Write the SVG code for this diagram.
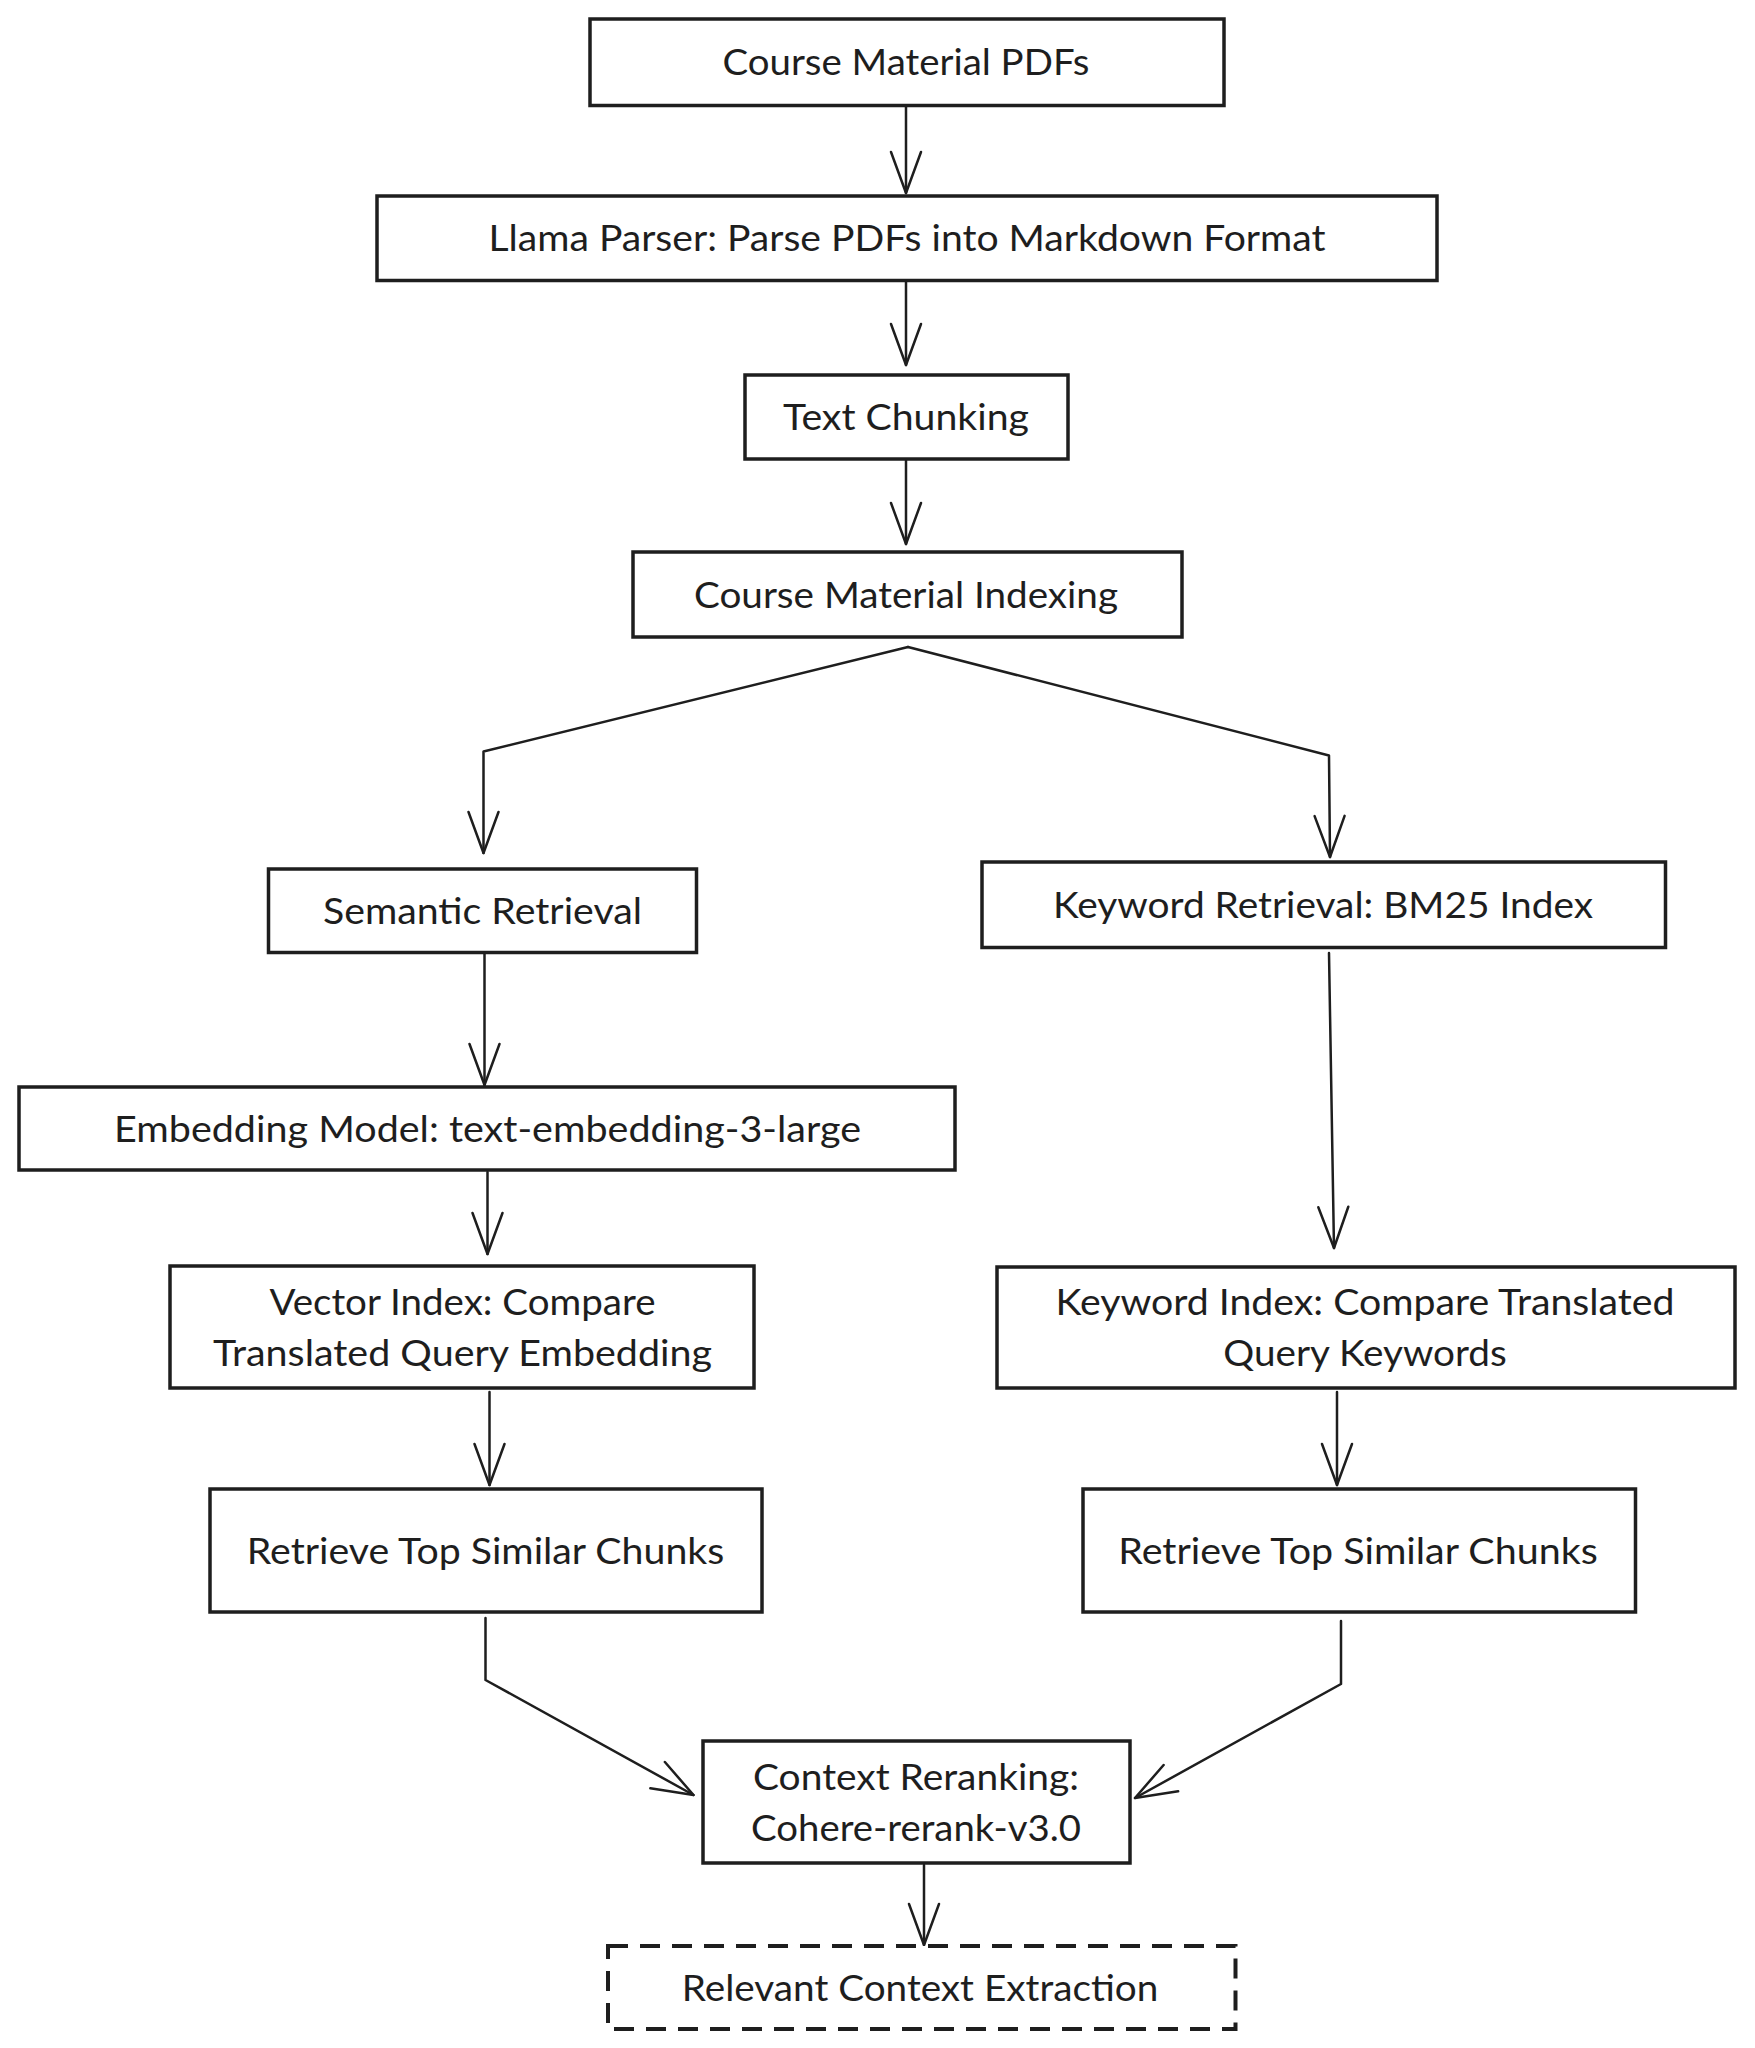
<svg xmlns="http://www.w3.org/2000/svg" width="1755" height="2048" viewBox="0 0 1755 2048">
<defs>
<style>
.box{fill:#ffffff;stroke:#1e1e1e;stroke-width:3.5}
.dash{fill:#ffffff;stroke:#1e1e1e;stroke-width:4;stroke-dasharray:20 12}
.t{font-family:Lato,"Noto Sans","DejaVu Sans",sans-serif;font-size:37px;fill:#1e1e1e;text-anchor:middle}
.c{fill:none;stroke:#1e1e1e;stroke-width:2.5;stroke-linejoin:round;stroke-linecap:round}
</style>
<marker id="ah" markerUnits="userSpaceOnUse" viewBox="-46 -18 50 36" refX="0" refY="0" markerWidth="50" markerHeight="36" orient="auto" overflow="visible">
<path d="M -41 -15 L 0 0 L -41 15" fill="none" stroke="#1e1e1e" stroke-width="2.5" stroke-linecap="round" stroke-linejoin="round"/>
</marker>
</defs>
<rect width="1755" height="2048" fill="#ffffff"/>
<g id="connectors">
<path class="c" d="M906 106 L906 193" marker-end="url(#ah)"/>
<path class="c" d="M906 281 L906 365" marker-end="url(#ah)"/>
<path class="c" d="M906 459 L906 544" marker-end="url(#ah)"/>
<path class="c" d="M908 647 L483.5 751.5 L483.5 853" marker-end="url(#ah)"/>
<path class="c" d="M908 647 L1329 755.5 L1330 857" marker-end="url(#ah)"/>
<path class="c" d="M484.5 954 L484.5 1085" marker-end="url(#ah)"/>
<path class="c" d="M487.5 1172 L487.5 1254" marker-end="url(#ah)"/>
<path class="c" d="M1329 953 L1334 1248" marker-end="url(#ah)"/>
<path class="c" d="M489.5 1392 L489.5 1485" marker-end="url(#ah)"/>
<path class="c" d="M1337 1392 L1337 1485" marker-end="url(#ah)"/>
<path class="c" d="M485.5 1618 L485.5 1680 L693.5 1795" marker-end="url(#ah)"/>
<path class="c" d="M1341 1621 L1341 1684 L1135 1798" marker-end="url(#ah)"/>
<path class="c" d="M924 1865 L924 1945" marker-end="url(#ah)"/>
</g>
<g id="n1"><rect class="box" x="590" y="19" width="634" height="86.5"/><text class="t" x="906" y="75" textLength="367" lengthAdjust="spacingAndGlyphs">Course Material PDFs</text></g>
<g id="n2"><rect class="box" x="377" y="196" width="1060" height="84.5"/><text class="t" x="907" y="251" textLength="837" lengthAdjust="spacingAndGlyphs">Llama Parser: Parse PDFs into Markdown Format</text></g>
<g id="n3"><rect class="box" x="745" y="375" width="323" height="84"/><text class="t" x="906" y="429.5" textLength="246" lengthAdjust="spacingAndGlyphs">Text Chunking</text></g>
<g id="n4"><rect class="box" x="633" y="552" width="549" height="85"/><text class="t" x="906" y="607.5" textLength="424" lengthAdjust="spacingAndGlyphs">Course Material Indexing</text></g>
<g id="n5"><rect class="box" x="268.5" y="869" width="428" height="83.5"/><text class="t" x="482.5" y="923.5" textLength="319" lengthAdjust="spacingAndGlyphs">Semantic Retrieval</text></g>
<g id="n6"><rect class="box" x="982" y="862" width="683.5" height="85.5"/><text class="t" x="1323" y="917.5" textLength="540" lengthAdjust="spacingAndGlyphs">Keyword Retrieval: BM25 Index</text></g>
<g id="n7"><rect class="box" x="19" y="1087" width="936" height="83"/><text class="t" x="487.5" y="1141.5" textLength="747" lengthAdjust="spacingAndGlyphs">Embedding Model: text-embedding-3-large</text></g>
<g id="n8"><rect class="box" x="170" y="1266" width="584" height="122"/><text class="t" x="462.5" y="1314.5" textLength="386" lengthAdjust="spacingAndGlyphs">Vector Index: Compare</text><text class="t" x="462.5" y="1365.5" textLength="499" lengthAdjust="spacingAndGlyphs">Translated Query Embedding</text></g>
<g id="n9"><rect class="box" x="997" y="1267" width="738" height="121"/><text class="t" x="1365" y="1314.5" textLength="619" lengthAdjust="spacingAndGlyphs">Keyword Index: Compare Translated</text><text class="t" x="1365" y="1365.5" textLength="283.5" lengthAdjust="spacingAndGlyphs">Query Keywords</text></g>
<g id="n10"><rect class="box" x="210" y="1489" width="552" height="123"/><text class="t" x="485.5" y="1563.5" textLength="477.5" lengthAdjust="spacingAndGlyphs">Retrieve Top Similar Chunks</text></g>
<g id="n11"><rect class="box" x="1083" y="1489" width="552.5" height="123"/><text class="t" x="1358" y="1563.5" textLength="479.5" lengthAdjust="spacingAndGlyphs">Retrieve Top Similar Chunks</text></g>
<g id="n12"><rect class="box" x="703" y="1741" width="427" height="122"/><text class="t" x="916" y="1789.5" textLength="326" lengthAdjust="spacingAndGlyphs">Context Reranking:</text><text class="t" x="916" y="1840.5" textLength="330" lengthAdjust="spacingAndGlyphs">Cohere-rerank-v3.0</text></g>
<g id="n13"><rect class="dash" x="608" y="1946" width="627.5" height="83"/><text class="t" x="920" y="2000.5" textLength="476.5" lengthAdjust="spacingAndGlyphs">Relevant Context Extraction</text></g>
</svg>
